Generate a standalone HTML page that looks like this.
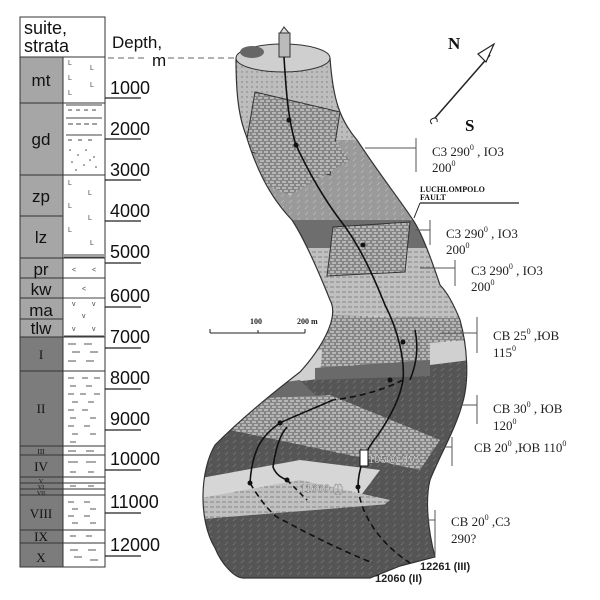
<!DOCTYPE html>
<html><head><meta charset="utf-8"><style>
html,body{margin:0;padding:0;background:#fff;width:600px;height:600px;overflow:hidden}
svg{display:block}
.s{font-family:"Liberation Sans",sans-serif}
.r{font-family:"Liberation Serif","DejaVu Serif",serif}
</style></head><body>
<svg width="600" height="600" viewBox="0 0 600 600">
<defs>
<clipPath id="col"><path d="M236,58 C236,90 238,115 246,135 C255,165 268,195 292,220 C305,240 318,270 330,300 C340,318 320,350 300,372 C270,395 240,420 215,445 C200,470 198,520 215,548 C222,565 235,578 243,578 L370,578 L400,566 L435,557 C428,530 425,500 430,480 C440,455 455,430 462,405 C470,380 467,345 460,320 C452,300 445,290 440,285 C430,255 420,230 413,220 C400,200 380,175 357,140 C340,120 333,100 330,58 Z"/></clipPath>
<pattern id="hat" width="6" height="6" patternUnits="userSpaceOnUse"><rect width="6" height="6" fill="#858585"/><path d="M0,2h4M2,5h4" stroke="#e8e8e8" stroke-width="1"/></pattern>
<pattern id="hat2" width="6" height="5" patternUnits="userSpaceOnUse"><rect width="6" height="5" fill="#c0c0c0"/><path d="M0,2h4" stroke="#777" stroke-width="0.8"/></pattern>
<pattern id="dash" width="8" height="6" patternUnits="userSpaceOnUse"><rect width="8" height="6" fill="#555"/><path d="M1,5l3,-3" stroke="#777" stroke-width="0.8"/></pattern>
<pattern id="med" width="8" height="6" patternUnits="userSpaceOnUse"><rect width="8" height="6" fill="#9a9a9a"/><path d="M1,5l3,-3" stroke="#bbb" stroke-width="0.8"/></pattern>
<pattern id="dot" width="5" height="5" patternUnits="userSpaceOnUse"><rect width="5" height="5" fill="#bdbdbd"/><circle cx="2" cy="2" r="0.7" fill="#777"/></pattern>
</defs>

<!-- LEFT COLUMN -->
<g stroke="#333" stroke-width="1">
<rect x="20" y="17" width="85" height="40" fill="#fff"/>
<rect x="20" y="57" width="43" height="280" fill="#a6a6a6"/>
<rect x="20" y="337" width="43" height="230" fill="#7c7c7c"/>
<rect x="63" y="57" width="42" height="510" fill="#fff"/>
</g>
<g stroke="#333" stroke-width="1">
<path d="M20,103h85M20,175h85M20,216h43M20,258h85M20,278h85M20,298h85M20,319h43M20,337h85M20,371h85M20,446h85M20,455h85M20,477h85M20,483h85M20,489h85M20,495h85M20,530h85M20,543h85"/>
</g>
<g stroke="#444" stroke-width="1" fill="none">
<path d="M66,105h36M68,110h4m4,0h4m4,0h4m4,0h4M66,118h36M68,124h5m3,0h5m3,0h5m3,0h5M66,135h36M68,140h4m6,0h4m6,0h4"/>
<path d="M64,255h40M64,257h40"/>
<path d="M64,298h40M64,336h40"/>
</g>
<g fill="#444">
<circle cx="70" cy="150" r="0.8"/><circle cx="78" cy="155" r="0.8"/><circle cx="86" cy="150" r="0.8"/><circle cx="94" cy="157" r="0.8"/><circle cx="72" cy="162" r="0.8"/><circle cx="84" cy="165" r="0.8"/><circle cx="96" cy="167" r="0.8"/><circle cx="76" cy="170" r="0.8"/><circle cx="90" cy="160" r="0.8"/>
</g>
<g font-size="7" fill="#444" class="s">
<text x="68" y="65">L</text><text x="90" y="70">L</text><text x="68" y="80">L</text><text x="90" y="87">L</text><text x="68" y="95">L</text>
<text x="68" y="185">L</text><text x="88" y="195">L</text><text x="68" y="208">L</text><text x="88" y="220">L</text><text x="68" y="232">L</text><text x="90" y="245">L</text>
<text x="72" y="272">&lt;</text><text x="92" y="272">&lt;</text><text x="82" y="291">&lt;</text>
<text x="72" y="306">v</text><text x="92" y="306">v</text><text x="82" y="318">v</text><text x="72" y="331">v</text><text x="92" y="331">v</text>
</g>
<g stroke="#555" stroke-width="1">
<path d="M68,344h8M84,344h8M72,352h8M90,352h8M68,361h8M86,361h8"/>
<path d="M68,378h6M82,378h6M94,378h6M70,386h6M86,386h6M68,394h6M80,394h6M94,394h6M72,402h6M88,402h6M68,410h6M82,410h6M70,418h6M90,418h6M68,426h6M84,426h6M72,434h6M90,434h6M70,442h6"/>
<path d="M68,451h8M86,451h8M68,462h10M86,462h10M70,472h6M88,472h6M70,486h6M88,486h6"/>
<path d="M68,502h6M84,502h6M72,509h6M90,509h6M68,516h6M84,516h6M72,523h6M90,523h6M70,536h6M86,536h6M70,550h8M88,550h8M74,557h8M90,560h8"/>
</g>
<text class="s" font-size="18" x="24" y="34" fill="#111">suite,</text>
<text class="s" font-size="18" x="24" y="52" fill="#111">strata</text>
<g class="s" font-size="17" fill="#111" text-anchor="middle">
<text x="41" y="86">mt</text><text x="41" y="145">gd</text><text x="41" y="202">zp</text><text x="41" y="243">lz</text>
<text x="41" y="275">pr</text><text x="41" y="295">kw</text><text x="41" y="316">ma</text><text x="41" y="334">tlw</text>
</g>
<g class="r" font-size="13" fill="#111" text-anchor="middle">
<text x="41" y="359">I</text><text x="41" y="413">II</text><text x="41" y="454" font-size="7">III</text><text x="41" y="471">IV</text>
<text x="41" y="483" font-size="6">V</text><text x="41" y="489" font-size="6">VI</text><text x="41" y="495" font-size="6">VII</text>
<text x="41" y="518">VIII</text><text x="41" y="541">IX</text><text x="41" y="562">X</text>
</g>
<text class="s" font-size="17" x="112" y="48" fill="#111">Depth,</text>
<text class="s" font-size="17" x="152" y="66" fill="#111">m</text>
<path d="M108,58h40M168,58h70" stroke="#666" stroke-dasharray="6,4"/>
<g class="s" font-size="18" fill="#111">
<text x="110" y="94">1000</text><text x="110" y="135">2000</text><text x="110" y="176">3000</text><text x="110" y="217">4000</text>
<text x="110" y="258">5000</text><text x="110" y="302">6000</text><text x="110" y="343">7000</text><text x="110" y="384">8000</text>
<text x="110" y="425">9000</text><text x="110" y="465">10000</text><text x="110" y="508">11000</text><text x="110" y="551">12000</text>
</g>
<g stroke="#222" stroke-width="1.2">
<path d="M105,98h36M105,139h36M105,180h36M105,221h36M105,263h36M105,307h36M105,348h36M105,389h36M105,430h36M105,470h36M105,513h36M105,556h36"/>
</g>

<!-- RIGHT DIAGRAM -->
<g clip-path="url(#col)">
<rect x="190" y="40" width="300" height="560" fill="url(#dot)"/>
<polygon points="190,140 400,140 430,225 190,225" fill="url(#med)"/>
<polygon points="280,220 420,220 430,248 300,248" fill="#6e6e6e"/>
<polygon points="190,248 470,248 470,320 190,320" fill="url(#hat2)"/>
<polygon points="190,318 470,318 470,365 190,365" fill="url(#hat)"/>
<polygon points="190,360 470,340 470,385 190,400" fill="#d0d0d0"/>
<polygon points="190,395 470,360 470,600 190,600" fill="url(#dash)"/>
<polygon points="190,395 300,380 330,410 190,420" fill="#6a6a6a"/>
<polygon points="230,400 330,395 440,440 420,470 230,430" fill="url(#hat)"/>
<polygon points="190,480 300,460 380,470 350,510 190,520" fill="#d6d6d6"/>
<polygon points="190,500 300,480 390,500 360,525 190,540" fill="url(#hat2)"/>
<polygon points="190,520 440,500 440,600 190,600" fill="url(#dash)"/>
<polygon points="325,315 430,318 430,370 320,375" fill="url(#hat)"/>
<polygon points="315,368 430,360 430,376 315,380" fill="#6a6a6a"/>
<polygon points="255,92 340,112 330,175 245,150" fill="url(#hat)" stroke="#333"/>
<polygon points="255,150 330,135 350,160 290,195 265,185" fill="url(#hat)"/>
<polygon points="333,227 410,222 405,272 327,276" fill="url(#hat)" stroke="#333"/>
<polygon points="260,290 440,285 445,300 270,305" fill="url(#hat2)"/>
</g>
<path d="M236,58 C236,90 238,115 246,135 C255,165 268,195 292,220 C305,240 318,270 330,300 C340,318 320,350 300,372 C270,395 240,420 215,445 C200,470 198,520 215,548 C222,565 235,578 243,578 L370,578 L400,566 L435,557 C428,530 425,500 430,480 C440,455 455,430 462,405 C470,380 467,345 460,320 C452,300 445,290 440,285 C430,255 420,230 413,220 C400,200 380,175 357,140 C340,120 333,100 330,58" fill="none" stroke="#333" stroke-width="1.2"/>
<ellipse cx="283" cy="58" rx="47" ry="14" fill="#cfcfcf" stroke="#333"/>
<ellipse cx="252" cy="52" rx="12" ry="6" fill="#666"/>
<rect x="279" y="33" width="11" height="24" fill="#bbb" stroke="#333"/>
<polygon points="280,33 284,27 289,33" fill="#ddd" stroke="#333"/>
<g fill="none" stroke="#111" stroke-width="1.6">
<path d="M284,57 C286,90 288,120 296,145 C310,175 325,200 340,220 C360,245 375,280 385,305 C398,330 405,360 403,380 C400,400 388,420 378,435 C365,450 358,470 358,487"/>
<path d="M358,487 C360,510 375,540 410,563" stroke-dasharray="6,4"/>
<path d="M403,380 C380,392 350,398 333,400" stroke-dasharray="6,4"/>
<path d="M333,400 C310,410 290,418 280,423 C262,435 252,450 250,483"/>
<path d="M250,483 C260,500 270,512 277,517 C310,535 345,552 373,563" stroke-dasharray="6,4"/>
<path d="M287,427 C280,435 276,447 273,467 C276,475 282,478 287,480"/>
<path d="M287,480 L307,500" stroke-dasharray="5,4"/>
<path d="M415,330 C418,345 418,360 410,380"/>
</g>
<g fill="#111"><circle cx="289" cy="120" r="2.5"/><circle cx="296" cy="145" r="2.5"/><circle cx="363" cy="245" r="2.5"/><circle cx="403" cy="342" r="2.5"/><circle cx="390" cy="380" r="2.5"/><circle cx="358" cy="487" r="2.5"/><circle cx="250" cy="483" r="2.5"/><circle cx="280" cy="423" r="2.5"/><circle cx="287" cy="480" r="2.5"/></g>
<rect x="360" y="450" width="8" height="16" fill="#fff" stroke="#111"/>
<g class="s" font-size="11" fill="#fff" stroke="#444" stroke-width="0.3">
<text x="368" y="463">10500 (IV)</text><text x="300" y="492">11660 (I)</text>
</g>
<g class="s" font-size="11" font-weight="bold" fill="#222">
<text x="420" y="570">12261 (III)</text><text x="375" y="582">12060 (II)</text>
</g>
<path d="M435,118 L490,55" stroke="#222" stroke-width="1.5"/>
<polygon points="494,44 486,62 478,54" fill="#fff" stroke="#222" stroke-width="1.2"/>
<path d="M432,124 q-4,-4 2,-6 q4,0 3,4" fill="none" stroke="#222"/>
<text class="r" font-size="17" font-weight="bold" x="448" y="49" fill="#111">N</text>
<text class="r" font-size="17" font-weight="bold" x="465" y="131" fill="#111">S</text>
<g class="r" font-size="8" font-weight="bold" fill="#222"><text x="250" y="324">100</text><text x="297" y="324">200 m</text></g>
<path d="M210,333h95M210,329v4M258,330v3M305,329v4" stroke="#222" stroke-width="1"/>
<g stroke="#555" stroke-width="1" fill="none">
<path d="M365,148h51M416,138v34"/>
<path d="M415,230h15M430,220v25"/>
<path d="M420,268h35M455,260v26"/>
<path d="M440,333h37M477,317v36"/>
<path d="M430,405h47M477,395v29"/>
<path d="M440,447h12M452,437v29"/>
<path d="M380,520h55M435,510v45"/>
</g>
<path d="M420,203h99" stroke="#222" stroke-width="1.3"/>
<path d="M420,203 L414,218" stroke="#222"/>
<g class="r" font-size="8" font-weight="bold" fill="#111"><text x="420" y="192">LUCHLOMPOLO</text><text x="420" y="200">FAULT</text></g>
<g class="r" font-size="13" fill="#222">
<text x="432" y="156">C3 290<tspan font-size="8" dy="-6">0</tspan><tspan dy="6"> , IO3</tspan></text><text x="432" y="172">200<tspan font-size="8" dy="-6">0</tspan></text>
<text x="446" y="238">C3 290<tspan font-size="8" dy="-6">0</tspan><tspan dy="6"> , IO3</tspan></text><text x="446" y="254">200<tspan font-size="8" dy="-6">0</tspan></text>
<text x="471" y="275">C3 290<tspan font-size="8" dy="-6">0</tspan><tspan dy="6"> , IO3</tspan></text><text x="471" y="291">200<tspan font-size="8" dy="-6">0</tspan></text>
<text x="493" y="340">CB 25<tspan font-size="8" dy="-6">0</tspan><tspan dy="6"> ,ЮВ</tspan></text><text x="493" y="357">115<tspan font-size="8" dy="-6">0</tspan></text>
<text x="493" y="413">CB 30<tspan font-size="8" dy="-6">0</tspan><tspan dy="6"> , ЮВ</tspan></text><text x="493" y="430">120<tspan font-size="8" dy="-6">0</tspan></text>
<text x="474" y="452">CB 20<tspan font-size="8" dy="-6">0</tspan><tspan dy="6"> ,ЮВ 110</tspan><tspan font-size="8" dy="-6">0</tspan></text>
<text x="451" y="526">CB 20<tspan font-size="8" dy="-6">0</tspan><tspan dy="6"> ,C3</tspan></text><text x="451" y="543">290?</text>
</g>
</svg>
</body></html>
